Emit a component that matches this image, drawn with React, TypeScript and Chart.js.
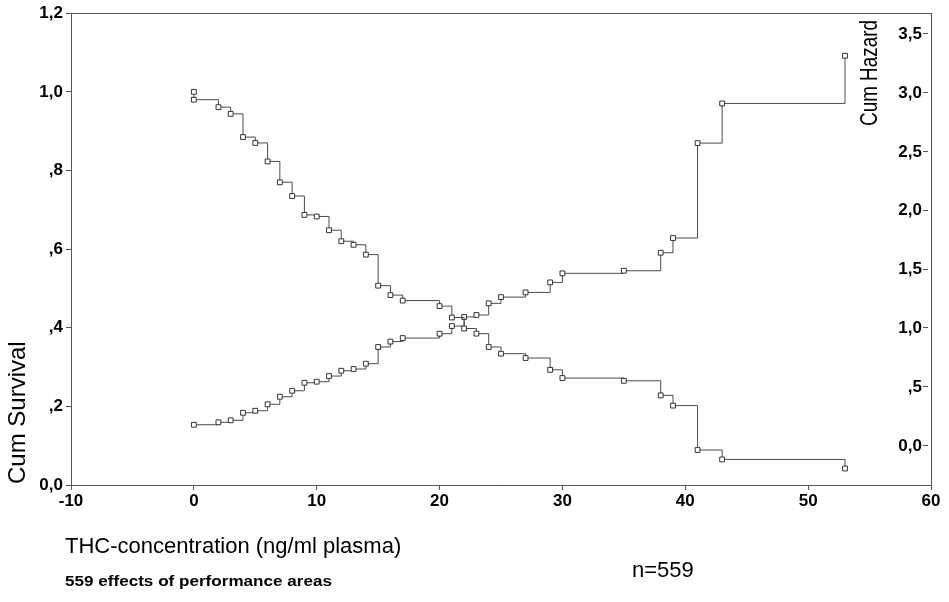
import React, { useEffect, useRef } from "react";
import { Chart, registerables } from "chart.js";

Chart.register(...registerables);

// THC concentration (ng/ml plasma) at each event
const survivalX = [0, 0, 2, 3, 4, 5, 6, 7, 8, 9, 10, 11, 12, 13, 14, 15, 16, 17, 20, 21, 22, 23, 24, 25, 27, 29, 30, 35, 38, 39, 41, 43, 53];
const survivalY = [1.0, 0.98, 0.961, 0.944, 0.885, 0.87, 0.823, 0.77, 0.735, 0.687, 0.683, 0.648, 0.62, 0.611, 0.586, 0.507, 0.483, 0.469, 0.455, 0.426, 0.398, 0.385, 0.351, 0.334, 0.323, 0.293, 0.272, 0.265, 0.228, 0.202, 0.089, 0.065, 0.042];

const hazardX = [0, 2, 3, 4, 5, 6, 7, 8, 9, 10, 11, 12, 13, 14, 15, 16, 17, 20, 21, 22, 23, 24, 25, 27, 29, 30, 35, 38, 39, 41, 43, 53];
const hazardY = [0.172, 0.193, 0.21, 0.274, 0.291, 0.346, 0.41, 0.461, 0.529, 0.538, 0.586, 0.631, 0.646, 0.691, 0.833, 0.879, 0.909, 0.946, 1.011, 1.088, 1.105, 1.204, 1.257, 1.297, 1.382, 1.459, 1.481, 1.634, 1.759, 2.566, 2.903, 3.308];

const xTicks = [-10, 0, 10, 20, 30, 40, 50, 60];
const survivalTicks = [0, 0.2, 0.4, 0.6, 0.8, 1.0, 1.2];
const hazardTicks = [0, 0.5, 1.0, 1.5, 2.0, 2.5, 3.0, 3.5];

const xTitle = "THC-concentration (ng/ml plasma)";
const survivalTitle = "Cum Survival";
const hazardTitle = "Cum Hazard";
const footnote = "559 effects of performance areas";
const nLabel = "n=559";

const fmt = (v: number) => {
  const r = Math.round(v * 10) / 10;
  if (r === 0) return "0,0";
  const s = r.toFixed(1).replace(".", ",");
  return Math.abs(r) < 1 ? s.replace(/^0/, "") : s;
};

const AXIS = "#555555";
const SANS = '"Liberation Sans", Arial, sans-serif';
const TICK_FONT = `bold 17px ${SANS}`;

const textPlugin = {
  id: "extras",
  afterDraw(chart: any) {
    const ctx = chart.ctx as CanvasRenderingContext2D;
    const { left, right, top } = chart.chartArea;
    ctx.save();
    // top frame
    ctx.strokeStyle = AXIS;
    ctx.lineWidth = 1;
    ctx.beginPath();
    ctx.moveTo(left, Math.round(top) + 0.5);
    ctx.lineTo(right, Math.round(top) + 0.5);
    ctx.stroke();
    // inner ticks and labels on the right axis
    const y2 = chart.scales.y2;
    ctx.beginPath();
    hazardTicks.forEach((v) => {
      const y = Math.round(y2.getPixelForValue(v)) + 0.5;
      ctx.moveTo(right - 8, y);
      ctx.lineTo(right - 3, y);
    });
    ctx.stroke();
    ctx.fillStyle = "#000";
    ctx.font = TICK_FONT;
    ctx.textAlign = "right";
    ctx.textBaseline = "middle";
    hazardTicks.forEach((v) => {
      ctx.fillText(fmt(v), right - 9, y2.getPixelForValue(v) + 1);
    });

    ctx.textBaseline = "alphabetic";
    ctx.textAlign = "left";
    // left title
    ctx.save();
    ctx.translate(25, 484);
    ctx.rotate(-Math.PI / 2);
    ctx.font = `24px ${SANS}`;
    ctx.fillText(survivalTitle, 0, 0);
    ctx.restore();
    // right title
    ctx.save();
    ctx.translate(877, 126);
    ctx.rotate(-Math.PI / 2);
    ctx.font = `23px ${SANS}`;
    ctx.fillText(hazardTitle, 0, 0, 106);
    ctx.restore();
    // x title and notes
    ctx.font = `22px ${SANS}`;
    ctx.fillText(xTitle, 65, 553);
    ctx.fillText(nLabel, 632, 577);
    ctx.save();
    ctx.font = `bold 15px ${SANS}`;
    const w = ctx.measureText(footnote).width;
    ctx.translate(65, 586);
    ctx.scale(267 / w, 1);
    ctx.fillText(footnote, 0, 0);
    ctx.restore();
    ctx.restore();
  },
};

export default function App() {
  const ref = useRef<HTMLCanvasElement | null>(null);
  useEffect(() => {
    const canvas = ref.current;
    if (!canvas) return;
    const lineStyle = {
      borderColor: "#4a4a4a",
      borderWidth: 1,
      stepped: "before" as const,
      pointStyle: "rect" as const,
      pointRadius: 3.4,
      pointBackgroundColor: "#ffffff",
      pointBorderColor: "#333333",
      pointBorderWidth: 1,
      fill: false,
    };
    const chart = new Chart(canvas, {
      type: "line",
      data: {
        datasets: [
          {
            label: survivalTitle,
            data: survivalX.map((x, i) => ({ x, y: survivalY[i] })),
            yAxisID: "y",
            ...lineStyle,
          },
          {
            label: hazardTitle,
            data: hazardX.map((x, i) => ({ x, y: hazardY[i] })),
            yAxisID: "y2",
            ...lineStyle,
          },
        ],
      },
      options: {
        animation: false,
        responsive: false,
        devicePixelRatio: 1,
        layout: { padding: { top: 13, left: 0, right: 0, bottom: 0 } },
        plugins: { legend: { display: false }, tooltip: { enabled: false } },
        scales: {
          x: {
            type: "linear",
            position: "bottom",
            min: -10,
            max: 60,
            afterBuildTicks: (s: any) => {
              s.ticks = xTicks.map((v) => ({ value: v }));
            },
            afterFit: (s: any) => {
              s.height = 117;
            },
            ticks: {
              color: "#000",
              padding: 1,
              maxRotation: 0,
              font: { family: SANS, weight: "bold", size: 17 },
              callback: (v: any) => String(v),
            },
            grid: { drawOnChartArea: false, drawTicks: true, tickLength: 5, color: AXIS },
            border: { color: AXIS, width: 1 },
          },
          y: {
            type: "linear",
            position: "left",
            min: 0,
            max: 1.2,
            afterBuildTicks: (s: any) => {
              s.ticks = survivalTicks.map((v) => ({ value: v }));
            },
            afterFit: (s: any) => {
              s.width = 71;
            },
            ticks: {
              color: "#000",
              padding: 3,
              font: { family: SANS, weight: "bold", size: 17 },
              callback: (v: any) => fmt(Number(v)),
            },
            grid: { drawOnChartArea: false, drawTicks: true, tickLength: 5, color: AXIS },
            border: { color: AXIS, width: 1 },
          },
          y2: {
            type: "linear",
            position: "right",
            min: -0.34,
            max: 3.67,
            afterBuildTicks: (s: any) => {
              s.ticks = hazardTicks.map((v) => ({ value: v }));
            },
            afterFit: (s: any) => {
              s.width = 18;
            },
            ticks: { display: false },
            grid: { display: false, drawTicks: false },
            border: { display: true, color: AXIS, width: 1 },
          },
        },
      },
      plugins: [textPlugin],
    });
    return () => chart.destroy();
  }, []);
  return (
    <div style={{ position: "fixed", left: 0, top: 0, width: 949, height: 602, background: "#fff" }}>
      <canvas ref={ref} width={949} height={602} style={{ width: 949, height: 602, display: "block" }} />
    </div>
  );
}
